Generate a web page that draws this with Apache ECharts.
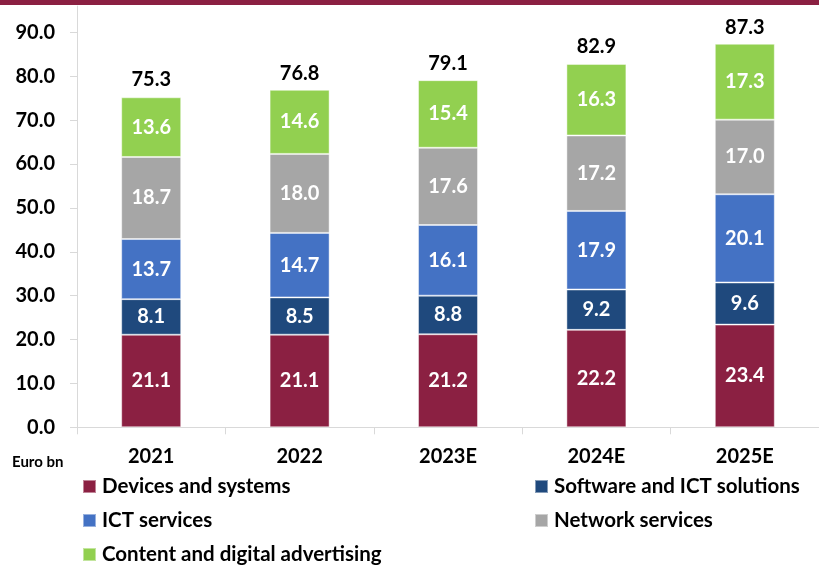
<!DOCTYPE html>
<html>
<head>
<meta charset="utf-8">
<style>
  html, body { margin: 0; padding: 0; background: #fff; }
  #chart { width: 819px; height: 566px; }
</style>
<script src="https://cdn.jsdelivr.net/npm/echarts@6/dist/echarts.min.js"></script>
</head>
<body>
<div id="chart"></div>
<script>
// Categories and segment values (Euro bn)
const years = ['2021', '2022', '2023E', '2024E', '2025E'];
const devices = [21.1, 21.1, 21.2, 22.2, 23.4];
const software = [8.1, 8.5, 8.8, 9.2, 9.6];
const ictServices = [13.7, 14.7, 16.1, 17.9, 20.1];
const network = [18.7, 18.0, 17.6, 17.2, 17.0];
const content = [13.6, 14.6, 15.4, 16.3, 17.3];
const totals = [75.3, 76.8, 79.1, 82.9, 87.3];
const yTicks = [0, 10, 20, 30, 40, 50, 60, 70, 80, 90];

const FONT = 'Lato, "Open Sans", sans-serif';

const chart = echarts.init(document.getElementById('chart'));

function segment(name, data, color) {
  return {
    name: name,
    type: 'bar',
    stack: 'total',
    data: data,
    barWidth: 60,
    itemStyle: { color: color, borderColor: 'rgba(255,255,255,0.45)', borderWidth: 1 },
    label: {
      show: true,
      position: 'inside',
      color: '#fff',
      fontFamily: FONT,
      fontWeight: 'bold',
      fontSize: 20,
      formatter: p => p.value.toFixed(1)
    }
  };
}

// One legend entry per slot, laid out in two columns
function legendItem(name, left, top) {
  return {
    left: left, top: top, padding: 0,
    itemWidth: 13, itemHeight: 13, icon: 'rect',
    textStyle: { fontFamily: FONT, fontWeight: 'bold', fontSize: 20.5, color: '#000', padding: [0, 0, 0, 1] },
    data: [name]
  };
}

chart.setOption({
  animation: false,
  backgroundColor: '#fff',
  graphic: [
    { type: 'rect', shape: { x: 0, y: 0, width: 819, height: 5 }, style: { fill: '#8b2042' } },
    {
      type: 'text', left: 12, top: 455,
      style: { text: 'Euro bn', fill: '#000', font: 'bold 15px ' + FONT }
    }
  ],
  grid: { left: 77, right: -11.5, top: 6, bottom: 138.7, containLabel: false },
  legend: [
    legendItem('Devices and systems', 82, 476),
    legendItem('ICT services', 82, 510),
    legendItem('Content and digital advertising', 82, 544),
    legendItem('Software and ICT solutions', 534, 476),
    legendItem('Network services', 534, 510)
  ],
  xAxis: {
    type: 'category',
    data: years,
    axisLine: { lineStyle: { color: '#d9d9d9', width: 1 } },
    axisTick: { show: true, length: 7, lineStyle: { color: '#d9d9d9' } },
    axisLabel: {
      color: '#000', fontFamily: FONT, fontWeight: 'bold', fontSize: 20, margin: 19
    }
  },
  yAxis: {
    type: 'value',
    min: 0,
    max: 96,
    interval: 10,
    splitLine: { show: false },
    axisLine: { show: true, lineStyle: { color: '#d9d9d9', width: 1 } },
    axisTick: { show: true, length: 7, customValues: yTicks, lineStyle: { color: '#d9d9d9' } },
    axisLabel: {
      customValues: yTicks,
      color: '#000', fontFamily: FONT, fontWeight: 'bold', fontSize: 20, margin: 22,
      formatter: v => v.toFixed(1)
    }
  },
  series: [
    segment('Devices and systems', devices, '#8b2042'),
    segment('Software and ICT solutions', software, '#1f497d'),
    segment('ICT services', ictServices, '#4472c4'),
    segment('Network services', network, '#a6a6a6'),
    segment('Content and digital advertising', content, '#92d050'),
    {
      name: 'Total',
      type: 'bar',
      data: totals,
      barWidth: 60,
      barGap: '-100%',
      z: 1,
      itemStyle: { color: 'rgba(0,0,0,0)' },
      label: {
        show: true,
        position: 'top',
        distance: 7,
        color: '#000',
        fontFamily: FONT,
        fontWeight: 'bold',
        fontSize: 20,
        formatter: p => p.value.toFixed(1)
      },
      tooltip: { show: false }
    }
  ]
});
</script>
</body>
</html>
